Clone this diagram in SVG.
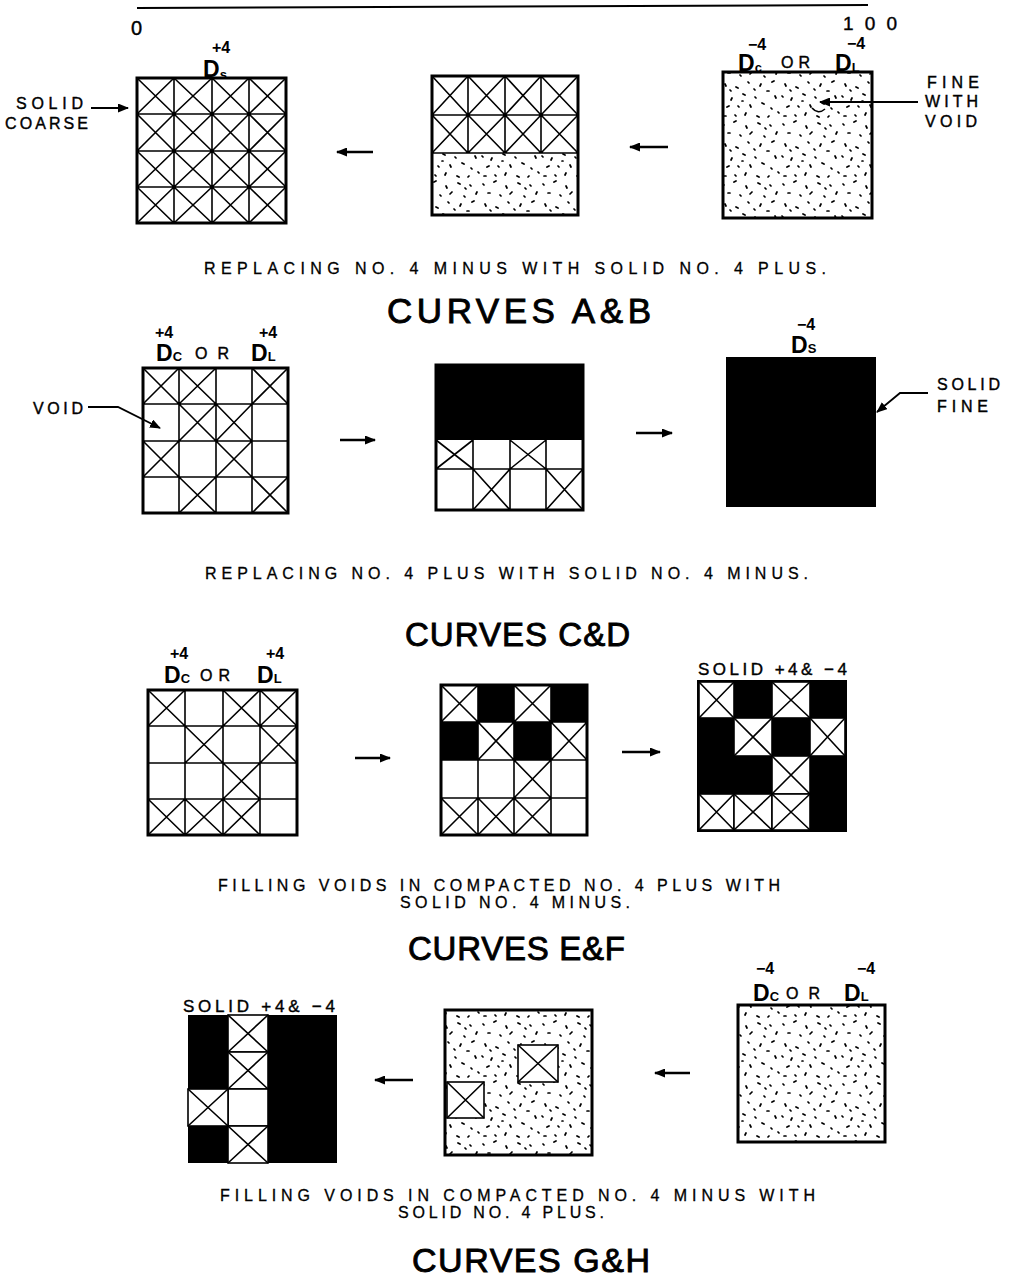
<svg xmlns="http://www.w3.org/2000/svg" width="1014" height="1281" viewBox="0 0 1014 1281">
<style>
.bd{fill:none;stroke:#000;stroke-width:3}
.gl{fill:none;stroke:#000;stroke-width:1.6}
.bk{fill:#000}
.wc{fill:#fff;stroke:#000;stroke-width:1.6}
.t{font-family:"Liberation Sans",Arial,sans-serif;fill:#000}
.cap{font-size:16px;stroke:#000;stroke-width:0.3}
.ttl{font-size:35px;stroke:#000;stroke-width:0.9}
.lb{font-size:16px;stroke:#000;stroke-width:0.4}
.sp{font-size:16px;font-weight:bold}
.d{font-size:23px;font-weight:bold}
.sb{font-size:13px;font-weight:bold}
.cn{fill:none;stroke:#000;stroke-width:2.5}
.ld{fill:none;stroke:#000;stroke-width:1.8}
</style>
<defs>
<pattern id="dots" width="60" height="60" patternUnits="userSpaceOnUse">
<path d="M3 4l1 1M14 2l2 -1M26 6l1 2M38 3l2 1M50 5l1 1M57 12l-1 2M8 13l2 0M20 15l1 1M32 12l-2 2M44 16l1 1M52 22l2 -1M5 24l1 2M16 27l2 1M28 22l1 1M40 26l1 -2M47 31l2 0M2 36l1 1M12 38l-1 2M23 34l2 1M35 37l1 1M55 36l1 2M7 47l2 -1M18 46l1 1M30 45l1 2M42 43l2 1M51 48l1 1M4 56l2 0M15 55l1 1M26 53l-1 2M37 56l2 1M48 57l1 -1M58 52l1 1M34 29l1 1M10 30l1 1M22 41l1 0M45 8l1 1" fill="none" stroke="#000" stroke-width="1.7" stroke-linecap="round"/>
</pattern>
<marker id="ah" markerUnits="userSpaceOnUse" markerWidth="11" markerHeight="9" refX="10" refY="4.5" orient="auto">
<path d="M0 0L11 4.5L0 9z" fill="#000"/>
</marker>
</defs>
<rect width="1014" height="1281" fill="#fff"/>

<g id="scale">
<line x1="137" y1="8" x2="868" y2="5" stroke="#000" stroke-width="2"/>
<text class="t lb" x="131" y="35" style="font-size:20px">0</text>
<text class="t lb" x="843" y="30" style="font-size:19px" textLength="54" lengthAdjust="spacing">100</text>
</g>

<!-- Row 1 -->
<g id="r1-left">
<path class="gl" d="M174 78V223M212 78V223M249 78V223M137 114H286M137 151H286M137 187H286
M137 78L174 114L212 151L249 187L286 223M174 78L212 114L249 151L286 187M212 78L249 114L286 151M249 78L286 114M137 114L174 151L212 187L249 223M137 151L174 187L212 223M137 187L174 223
M174 78L137 114M212 78L174 114L137 151M249 78L212 114L174 151L137 187M286 78L249 114L212 151L174 187L137 223M286 114L249 151L212 187L174 223M286 151L249 187L212 223M286 187L249 223"/>
<rect class="bd" x="137" y="78" width="149" height="145"/>
<text class="t sp" x="212" y="53">+4</text>
<text class="t" x="203" y="77"><tspan class="d">D</tspan><tspan class="sb" dy="2">s</tspan></text>
<text class="t lb" x="16" y="109" textLength="67" lengthAdjust="spacing">SOLID</text>
<text class="t lb" x="5" y="129" textLength="83" lengthAdjust="spacing">COARSE</text>
</g>

<g id="r1-mid">
<rect x="432" y="153" width="146" height="62" fill="url(#dots)"/>
<path class="gl" d="M468 76V153M505 76V153M541 76V153M432 115H578M432 153H578
M432 76L468 115L505 153M468 76L505 115L541 153M505 76L541 115L578 153M541 76L578 115M432 115L468 153
M468 76L432 115M505 76L468 115L432 153M541 76L505 115L468 153M578 76L541 115L505 153M578 115L541 153"/>
<rect class="bd" x="432" y="76" width="146" height="139"/>
</g>

<g id="r1-right">
<rect x="723" y="72" width="149" height="146" fill="url(#dots)"/>
<rect class="bd" x="723" y="72" width="149" height="146"/>
<path class="gl" d="M812 108q6 7 13 1"/>
<text class="t sp" x="748" y="50">−4</text>
<text class="t" x="738" y="71"><tspan class="d">D</tspan><tspan class="sb" dy="1">c</tspan></text>
<text class="t lb" x="781" y="68" textLength="29" lengthAdjust="spacing">OR</text>
<text class="t sp" x="847" y="49">−4</text>
<text class="t" x="835" y="71"><tspan class="d">D</tspan><tspan class="sb" dy="1">L</tspan></text>
<text class="t lb" x="927" y="88" textLength="52" lengthAdjust="spacing">FINE</text>
<text class="t lb" x="925" y="107" textLength="53" lengthAdjust="spacing">WITH</text>
<text class="t lb" x="925" y="127" textLength="52" lengthAdjust="spacing">VOID</text>
</g>

<text class="t cap" x="204" y="274" textLength="622" lengthAdjust="spacing">REPLACING NO. 4  MINUS WITH  SOLID NO. 4  PLUS.</text>
<text class="t ttl" x="387" y="323" textLength="264" lengthAdjust="spacing">CURVES A&amp;B</text>

<!-- Row 2 -->
<g id="r2-left">
<path class="gl" d="M179 368V513M216 368V513M252 368V513M143 404H288M143 441H288M143 477H288
M143 368L179 404M179 368L143 404M179 368L216 404M216 368L179 404M252 368L288 404M288 368L252 404
M179 404L216 441M216 404L179 441M216 404L252 441M252 404L216 441
M143 441L179 477M179 441L143 477M216 441L252 477M252 441L216 477
M179 477L216 513M216 477L179 513M252 477L288 513M288 477L252 513"/>
<rect class="bd" x="143" y="368" width="145" height="145"/>
<text class="t sp" x="155" y="338">+4</text>
<text class="t" x="156" y="361"><tspan class="d">D</tspan><tspan class="sb" dy="0">C</tspan></text>
<text class="t lb" x="195" y="359" textLength="34" lengthAdjust="spacing">OR</text>
<text class="t sp" x="259" y="338">+4</text>
<text class="t" x="251" y="361"><tspan class="d">D</tspan><tspan class="sb" dy="0">L</tspan></text>
<text class="t lb" x="33" y="414" textLength="50" lengthAdjust="spacing">VOID</text>
</g>

<g id="r2-mid">
<rect class="bk" x="436" y="365" width="147" height="75"/>
<path class="gl" d="M473 440V510M510 440V510M546 440V510M436 469H583
M436 440L473 469M473 440L436 469M510 440L546 469M546 440L510 469
M473 469L510 510M510 469L473 510M546 469L583 510M583 469L546 510"/>
<rect class="bd" x="436" y="365" width="147" height="145"/>
</g>

<g id="r2-right">
<rect class="bk" x="726" y="357" width="150" height="150"/>
<text class="t sp" x="797" y="330">−4</text>
<text class="t" x="791" y="353"><tspan class="d">D</tspan><tspan class="sb" dy="0">S</tspan></text>
<text class="t lb" x="937" y="390" textLength="63" lengthAdjust="spacing">SOLID</text>
<text class="t lb" x="937" y="412" textLength="51" lengthAdjust="spacing">FINE</text>
</g>

<text class="t cap" x="205" y="579" textLength="603" lengthAdjust="spacing">REPLACING NO.  4  PLUS WITH SOLID NO. 4  MINUS.</text>
<text class="t ttl" x="405" y="646" textLength="225" lengthAdjust="spacing" style="font-size:33px">CURVES C&amp;D</text>

<!-- Row 3 -->
<g id="r3-left">
<path class="gl" d="M185 690V835M223 690V835M260 690V835M148 726H297M148 763H297M148 799H297
M148 690L185 726M185 690L148 726M223 690L260 726M260 690L223 726M260 690L297 726M297 690L260 726
M185 726L223 763M223 726L185 763M260 726L297 763M297 726L260 763
M223 763L260 799M260 763L223 799
M148 799L185 835M185 799L148 835M185 799L223 835M223 799L185 835M223 799L260 835M260 799L223 835"/>
<rect class="bd" x="148" y="690" width="149" height="145"/>
<text class="t sp" x="170" y="659">+4</text>
<text class="t" x="164" y="683"><tspan class="d">D</tspan><tspan class="sb" dy="0">C</tspan></text>
<text class="t lb" x="200" y="681" textLength="30" lengthAdjust="spacing">OR</text>
<text class="t sp" x="266" y="659">+4</text>
<text class="t" x="257" y="683"><tspan class="d">D</tspan><tspan class="sb" dy="0">L</tspan></text>
</g>

<g id="r3-mid">
<rect class="bk" x="478" y="685" width="36" height="37"/>
<rect class="bk" x="551" y="685" width="36" height="37"/>
<rect class="bk" x="441" y="722" width="37" height="38"/>
<rect class="bk" x="514" y="722" width="37" height="38"/>
<path class="gl" d="M478 685V835M514 685V835M551 685V835M441 722H587M441 760H587M441 798H587
M441 685L478 722M478 685L441 722M514 685L551 722M551 685L514 722
M478 722L514 760M514 722L478 760M551 722L587 760M587 722L551 760
M514 760L551 798M551 760L514 798
M441 798L478 835M478 798L441 835M478 798L514 835M514 798L478 835M514 798L551 835M551 798L514 835"/>
<rect class="bd" x="441" y="685" width="146" height="150"/>
</g>

<g id="r3-right">
<rect class="bk" x="697" y="680" width="150" height="152"/>
<rect class="wc" x="699" y="682" width="35" height="36"/>
<rect class="wc" x="772" y="682" width="38" height="36"/>
<rect class="wc" x="734" y="718" width="38" height="38"/>
<rect class="wc" x="810" y="718" width="35" height="38"/>
<rect class="wc" x="772" y="756" width="38" height="38"/>
<rect class="wc" x="699" y="794" width="35" height="36"/>
<rect class="wc" x="734" y="794" width="38" height="36"/>
<rect class="wc" x="772" y="794" width="38" height="36"/>
<path class="gl" d="M699 682L734 718M734 682L699 718M772 682L810 718M810 682L772 718
M734 718L772 756M772 718L734 756M810 718L845 756M845 718L810 756
M772 756L810 794M810 756L772 794
M699 794L734 830M734 794L699 830M734 794L772 830M772 794L734 830M772 794L810 830M810 794L772 830"/>
<text class="t lb" x="698" y="675" style="font-size:17px" textLength="149" lengthAdjust="spacing">SOLID  +4&amp; −4</text>
</g>

<text class="t cap" x="218" y="891" textLength="562" lengthAdjust="spacing">FILLING  VOIDS IN COMPACTED NO. 4  PLUS WITH</text>
<text class="t cap" x="400" y="908" textLength="230" lengthAdjust="spacing">SOLID NO. 4  MINUS.</text>
<text class="t ttl" x="408" y="960" textLength="217" lengthAdjust="spacing" style="font-size:33px">CURVES E&amp;F</text>

<!-- Row 4 -->
<g id="r4-left">
<rect class="bk" x="188" y="1015" width="149" height="148"/>
<rect class="wc" x="228" y="1015" width="40" height="37"/>
<rect class="wc" x="228" y="1052" width="40" height="37"/>
<rect class="wc" x="228" y="1089" width="40" height="37"/>
<rect class="wc" x="228" y="1126" width="40" height="37"/>
<rect class="wc" x="188" y="1089" width="40" height="37"/>
<path class="gl" d="M228 1015L268 1052M268 1015L228 1052M228 1052L268 1089M268 1052L228 1089M228 1126L268 1163M268 1126L228 1163M188 1089L228 1126M228 1089L188 1126"/>
<text class="t lb" x="183" y="1012" style="font-size:17px" textLength="152" lengthAdjust="spacing">SOLID +4&amp; −4</text>
</g>

<g id="r4-mid">
<rect x="445" y="1010" width="147" height="145" fill="url(#dots)"/>
<rect class="wc" x="518" y="1045" width="40" height="37" stroke-width="2.2"/>
<rect class="wc" x="447" y="1082" width="37" height="36" stroke-width="2.2"/>
<path class="gl" d="M518 1045L558 1082M558 1045L518 1082M447 1082L484 1118M484 1082L447 1118"/>
<rect class="bd" x="445" y="1010" width="147" height="145"/>
</g>

<g id="r4-right">
<rect x="738" y="1005" width="147" height="137" fill="url(#dots)"/>
<rect class="bd" x="738" y="1005" width="147" height="137"/>
<text class="t sp" x="756" y="974">−4</text>
<text class="t" x="753" y="1001"><tspan class="d">D</tspan><tspan class="sb" dy="0">C</tspan></text>
<text class="t lb" x="786" y="999" textLength="34" lengthAdjust="spacing">OR</text>
<text class="t sp" x="857" y="974">−4</text>
<text class="t" x="844" y="1001"><tspan class="d">D</tspan><tspan class="sb" dy="0">L</tspan></text>
</g>

<text class="t cap" x="220" y="1201" textLength="595" lengthAdjust="spacing">FILLING  VOIDS IN COMPACTED NO. 4 MINUS WITH</text>
<text class="t cap" x="398" y="1218" textLength="206" lengthAdjust="spacing">SOLID NO. 4  PLUS.</text>
<text class="t ttl" x="412" y="1272" textLength="238" lengthAdjust="spacing" style="font-size:34px">CURVES G&amp;H</text>

<g id="connectors">
<line class="cn" x1="373" y1="152" x2="337" y2="152" marker-end="url(#ah)"/>
<line class="cn" x1="668" y1="147" x2="630" y2="147" marker-end="url(#ah)"/>
<line class="cn" x1="340" y1="440" x2="375" y2="440" marker-end="url(#ah)"/>
<line class="cn" x1="636" y1="433" x2="672" y2="433" marker-end="url(#ah)"/>
<line class="cn" x1="355" y1="758" x2="390" y2="758" marker-end="url(#ah)"/>
<line class="cn" x1="622" y1="752" x2="660" y2="752" marker-end="url(#ah)"/>
<line class="cn" x1="413" y1="1080" x2="375" y2="1080" marker-end="url(#ah)"/>
<line class="cn" x1="690" y1="1073" x2="655" y2="1073" marker-end="url(#ah)"/>
<path class="ld" d="M91 108H128" marker-end="url(#ah)"/>
<path class="ld" d="M918 102H820" marker-end="url(#ah)"/>
<path class="ld" d="M88 407H118L160 428" marker-end="url(#ah)"/>
<path class="ld" d="M928 393H900L877 412" marker-end="url(#ah)"/>
</g>
</svg>
